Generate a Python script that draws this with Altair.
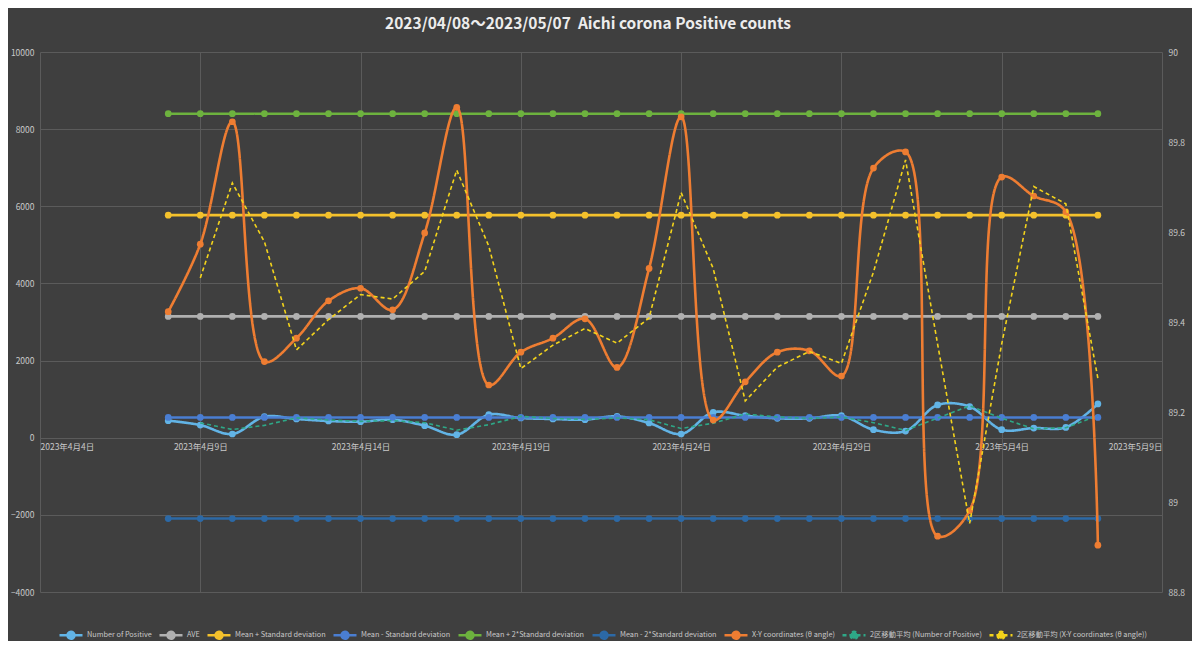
import altair as alt
import pandas as pd

# ---------------- data ----------------
dates = [str(d.date()) for d in pd.date_range("2023-04-08", "2023-05-07", freq="D")]

number_of_positive = [442, 329, 96, 545, 485, 433, 416, 468, 312, 78,
                      597, 511, 485, 468, 554, 381, 96, 658, 571, 502,
                      502, 571, 208, 173, 849, 805, 208, 251, 268, 875]

xy_angle = [89.423, 89.573, 89.845, 89.312, 89.364, 89.447, 89.475, 89.427, 89.598, 89.877,
            89.260, 89.333, 89.364, 89.407, 89.299, 89.519, 89.856, 89.182, 89.267, 89.333,
            89.336, 89.280, 89.742, 89.778, 88.924, 88.981, 89.722, 89.680, 89.645, 88.904]

ave = 3145
mean_plus_sd = 5770
mean_minus_sd = 525
mean_plus_2sd = 8400
mean_minus_2sd = -2095

series_names = [
    "Number of Positive",
    "AVE",
    "Mean + Standard deviation",
    "Mean - Standard deviation",
    "Mean + 2*Standard deviation",
    "Mean - 2*Standard deviation",
    "X-Y coordinates (θ angle)",
    "2区移動平均 (Number of Positive)",
    "2区移動平均 (X-Y coordinates (θ angle))",
]
series_colors = ["#62b4e6", "#b0b0b0", "#f4c12c", "#4a7ed2", "#6db23e",
                 "#2c69a6", "#ee7d32", "#2ea887", "#f3d31b"]
series_dashes = [[1, 0]] * 7 + [[4, 3], [4, 3]]

x_ticks = ["2023-04-04", "2023-04-09", "2023-04-14", "2023-04-19",
           "2023-04-24", "2023-04-29", "2023-05-04", "2023-05-09"]
left_ticks = [-4000, -2000, 0, 2000, 4000, 6000, 8000, 10000]
right_ticks = [88.8, 89.0, 89.2, 89.4, 89.6, 89.8, 90.0]

title_text = "2023/04/08～2023/05/07 \u00a0Aichi corona Positive counts"

# ---------------- tables ----------------
rows = []
for d, v in zip(dates, number_of_positive):
    rows.append({"date": d, "series": series_names[0], "value": v})
for name, c in zip(series_names[1:6], [ave, mean_plus_sd, mean_minus_sd, mean_plus_2sd, mean_minus_2sd]):
    for d in dates:
        rows.append({"date": d, "series": name, "value": c})
left_df = pd.DataFrame(rows)
pos_df = left_df[left_df["series"] == series_names[0]].copy()
xy_df = pd.DataFrame({"date": dates, "series": series_names[6], "value": xy_angle})

# ---------------- styling ----------------
FONT = "Noto Sans CJK JP"
GRID = "#5b5b5b"
LABEL = "#c9c9c9"


def dt(s):
    y, m, d = [int(p) for p in s.split("-")]
    return alt.DateTime(year=y, month=m, date=d, utc=True)


x_scale = alt.Scale(type="utc", domain=[dt(x_ticks[0]), dt(x_ticks[-1])], nice=False)
x_axis = alt.Axis(values=[dt(t) for t in x_ticks], format="%Y年%-m月%-d日",
                  grid=True, gridColor=GRID, gridWidth=1, domain=False, ticks=False,
                  labelColor=LABEL, labelFont=FONT, labelFontSize=8.5, labelPadding=5,
                  offset=-154.3, title=None, labelOverlap=False)
X = alt.X("date:T", scale=x_scale, axis=x_axis, title=None)

yl_scale = alt.Scale(domain=[-4000, 10000], nice=False, zero=False)
yl_axis = alt.Axis(values=left_ticks, grid=True, gridColor=GRID, gridWidth=1, domain=False,
                   ticks=False, labelColor=LABEL, labelFont=FONT, labelFontSize=8.5,
                   labelPadding=6, title=None, orient="left", format="d")
yr_scale = alt.Scale(domain=[88.8, 90.0], nice=False, zero=False)
yr_axis = alt.Axis(values=right_ticks, grid=False, domain=False, ticks=False,
                   labelColor=LABEL, labelFont=FONT, labelFontSize=8.5, labelPadding=6,
                   title=None, orient="right", format="~g")

legend = alt.Legend(
    orient="none", legendX=18, legendY=570, direction="horizontal", columns=9,
    title=None, labelColor=LABEL, labelFont=FONT, labelFontSize=7.3, labelLimit=400,
    symbolSize=529, symbolStrokeWidth=2.5, columnPadding=2, labelOffset=3,
    symbolType="M-1,0L1,0M0.3,0A0.3,0.3,0,1,1,-0.3,0A0.3,0.3,0,1,1,0.3,0Z",
)
C = alt.Color("series:N", scale=alt.Scale(domain=series_names, range=series_colors), legend=legend)
D = alt.StrokeDash("series:N", scale=alt.Scale(domain=series_names, range=series_dashes), legend=legend)

YL = alt.Y("value:Q", scale=yl_scale, axis=yl_axis, title=None)
YR = alt.Y("value:Q", scale=yr_scale, axis=yr_axis, title=None)

# ---------------- left axis layers ----------------
left_lines = alt.Chart(left_df).mark_line(interpolate="catmull-rom", strokeWidth=2.6).encode(
    x=X, y=YL, color=C, strokeDash=D)
left_points = alt.Chart(left_df).mark_point(filled=True, size=45, opacity=1).encode(
    x=X, y=YL, color=C)
ma_pos = alt.Chart(pos_df).transform_window(
    ma="mean(value)", n="count()", frame=[-1, 0], sort=[alt.SortField("date")]
).transform_filter("datum.n == 2").transform_calculate(
    series="'" + series_names[7] + "'"
).mark_line(strokeWidth=1.6).encode(
    x=X, y=alt.Y("ma:Q", scale=yl_scale, axis=yl_axis, title=None), color=C, strokeDash=D)

# ---------------- right axis layers ----------------
right_lines = alt.Chart(xy_df).mark_line(interpolate="catmull-rom", strokeWidth=2.6).encode(
    x=X, y=YR, color=C, strokeDash=D)
right_points = alt.Chart(xy_df).mark_point(filled=True, size=45, opacity=1).encode(
    x=X, y=YR, color=C)
ma_xy = alt.Chart(xy_df).transform_window(
    ma="mean(value)", n="count()", frame=[-1, 0], sort=[alt.SortField("date")]
).transform_filter("datum.n == 2").transform_calculate(
    series="'" + series_names[8] + "'"
).mark_line(strokeWidth=1.6).encode(
    x=X, y=alt.Y("ma:Q", scale=yr_scale, axis=yr_axis, title=None), color=C, strokeDash=D)

left = alt.layer(left_lines, left_points, ma_pos)
right = alt.layer(right_lines, right_points, ma_xy)

chart = alt.layer(left, right).resolve_scale(y="independent").properties(
    width=1122, height=540,
    autosize=alt.AutoSizeParams(type="none"),
    padding={"left": 32, "top": 44, "right": 30, "bottom": 49},
    background="#3f3f3f",
    title=alt.TitleParams(
        title_text,
        font=FONT, fontSize=15.5, fontWeight="bold", color="#ececec",
        anchor="middle", frame="group", offset=16, dx=-13),
).configure_view(
    stroke=None,
)

chart.save("out.html", embed_options={"renderer": "svg", "actions": False})
